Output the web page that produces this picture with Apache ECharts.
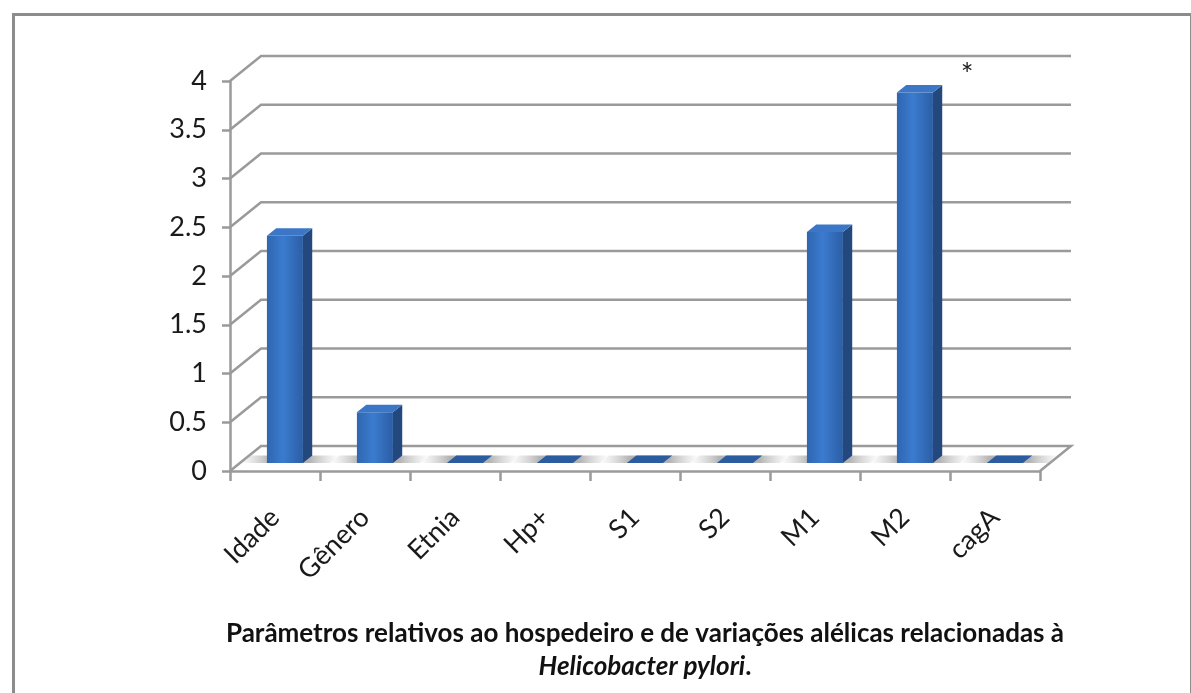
<!DOCTYPE html>
<html>
<head>
<meta charset="utf-8">
<script src="https://cdn.jsdelivr.net/npm/echarts@6/dist/echarts.min.js"></script>
<style>
  html, body { margin: 0; padding: 0; background: #fff; }
  #chart { width: 1191px; height: 693px; }
</style>
</head>
<body>
<div id="chart"></div>
<script>
// Categories and values of the 3D column chart
const categories = ['Idade', 'Gênero', 'Etnia', 'Hp+', 'S1', 'S2', 'M1', 'M2', 'cagA'];
const values = [2.33, 0.52, 0, 0, 0, 0, 2.37, 3.8, 0];
const marks = ['', '', '', '', '', '', '', '*', ''];
const yTicks = [0, 0.5, 1, 1.5, 2, 2.5, 3, 3.5, 4];

// Perspective offsets: full depth of floor / back wall, and the depth slab occupied by columns
const DX = 31, DY = -25;
const Z0 = 0.32, Z1 = 0.62;
const BAR_W = 0.4;
const FONT = 'Lato, "Open Sans", sans-serif';

const chart = echarts.init(document.getElementById('chart'), null, { renderer: 'canvas' });

function renderWall(params, api) {
  const v = api.value(1);
  const cs = params.coordSys;
  const y = api.coord([0, v])[1];
  const x0 = cs.x, x1 = cs.x + cs.width;
  const pts = [[x0, y], [x0 + DX, y + DY], [x1 + DX, y + DY]];
  if (v === 0) pts.push([x1, y]);
  return {
    type: 'polyline',
    shape: { points: pts },
    style: { stroke: '#9a9a9a', lineWidth: 2.5, fill: null }
  };
}

function renderBar(params, api) {
  const i = api.value(0), v = api.value(1);
  const base = api.coord([i, 0]);
  const top = api.coord([i, v]);
  const band = api.size([1, 0])[0];
  const w = band * BAR_W;
  const c = base[0];
  const xl = c - w / 2 + Z0 * DX, xr = xl + w;
  const yb = base[1] + Z0 * DY, yt = top[1] + Z0 * DY;
  const ddx = (Z1 - Z0) * DX, ddy = (Z1 - Z0) * DY;
  const children = [];

  // soft shadow on the floor around the column
  children.push({
    type: 'polygon',
    shape: { points: [
      [c - band / 2 + Z0 * DX, yb], [c + band / 2 + Z0 * DX, yb],
      [c + band / 2 + Z1 * DX, yb + ddy], [c - band / 2 + Z1 * DX, yb + ddy]
    ] },
    style: {
      fill: new echarts.graphic.LinearGradient(0, 0, 1, 0, [
        { offset: 0, color: 'rgba(190,190,190,0)' },
        { offset: 0.3, color: 'rgba(160,160,160,0.8)' },
        { offset: 0.7, color: 'rgba(160,160,160,0.8)' },
        { offset: 1, color: 'rgba(190,190,190,0)' }
      ])
    }
  });

  if (yb - yt > 0.5) {
    // front face
    children.push({
      type: 'rect',
      shape: { x: xl, y: yt, width: w, height: yb - yt },
      style: {
        fill: new echarts.graphic.LinearGradient(0, 0, 1, 0, [
          { offset: 0, color: '#2f66b0' },
          { offset: 0.45, color: '#3b7bcf' },
          { offset: 1, color: '#2c5ea5' }
        ])
      }
    });
    // side face
    children.push({
      type: 'polygon',
      shape: { points: [[xr, yb], [xr + ddx, yb + ddy], [xr + ddx, yt + ddy], [xr, yt]] },
      style: { fill: '#22487e' }
    });
  }
  // top face
  children.push({
    type: 'polygon',
    shape: { points: [[xl, yt], [xr, yt], [xr + ddx, yt + ddy], [xl + ddx, yt + ddy]] },
    style: { fill: v > 0 ? '#3b77c6' : '#2b5c9f' }
  });

  const m = marks[i];
  if (m) {
    children.push({
      type: 'text',
      x: xr + ddx + 25, y: yt + ddy - 10,
      style: { text: m, fill: '#222', font: '30px ' + FONT, align: 'center', verticalAlign: 'middle' }
    });
  }
  return { type: 'group', children };
}

chart.setOption({
  animation: false,
  backgroundColor: '#fff',
  grid: { left: 230, top: 81, width: 810, height: 390 },
  xAxis: {
    type: 'category',
    data: categories,
    boundaryGap: true,
    axisLine: { lineStyle: { color: '#9a9a9a', width: 2.5 } },
    axisTick: { show: true, length: 10, lineStyle: { color: '#9a9a9a', width: 2.5 } },
    axisLabel: { rotate: 45, margin: 42, fontSize: 27, color: '#1a1a1a', fontFamily: FONT }
  },
  yAxis: {
    type: 'value',
    min: 0, max: 4, interval: 0.5,
    axisLine: { show: true, lineStyle: { color: '#9a9a9a', width: 2.5 } },
    axisTick: { show: true, length: 8, lineStyle: { color: '#9a9a9a', width: 2.5 } },
    axisLabel: { margin: 23, fontSize: 27, color: '#1a1a1a', fontFamily: FONT },
    splitLine: { show: false }
  },
  series: [
    {
      type: 'custom',
      renderItem: renderWall,
      data: yTicks.map(v => [0, v]),
      encode: { x: 0, y: 1 },
      silent: true,
      z: 1
    },
    {
      type: 'custom',
      renderItem: renderBar,
      data: values.map((v, i) => [i, v]),
      encode: { x: 0, y: 1 },
      z: 2
    }
  ],
  graphic: [
    {
      type: 'rect',
      left: 11, top: 12,
      shape: { width: 1178, height: 720 },
      style: { fill: null, stroke: '#8c8c8c', lineWidth: 3 },
      silent: true
    },
    {
      type: 'text',
      x: 645, y: 617,
      style: {
        text: '{b|Parâmetros relativos ao hospedeiro e de variações alélicas relacionadas à}\n{i|Helicobacter pylori}{b|.}',
        align: 'center',
        rich: {
          b: { font: 'bold 26px ' + FONT, fill: '#111', lineHeight: 33 },
          i: { font: 'italic bold 26px ' + FONT, fill: '#111', lineHeight: 33 }
        }
      }
    }
  ]
});
</script>
</body>
</html>
